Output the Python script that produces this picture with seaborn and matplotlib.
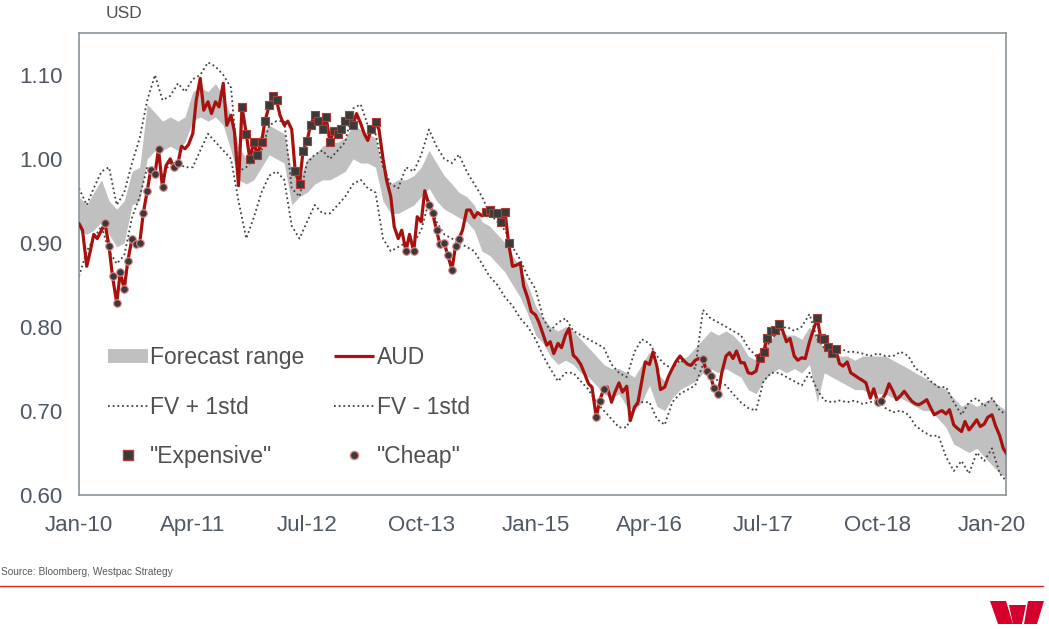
import numpy as np
import pandas as pd
import matplotlib
matplotlib.use('Agg')
import matplotlib.pyplot as plt
import matplotlib.dates as mdates
from matplotlib.lines import Line2D
from matplotlib.patches import Polygon
import seaborn as sns

# AUD/USD, semi-monthly readings (1st and 15th of each month), Jan-10 .. Mar-20
aud = [
    0.923, 0.915, 0.872, 0.890, 0.910, 0.905, 0.915, 0.923, 0.896, 0.860, 0.828, 0.865,
    0.845, 0.878, 0.905, 0.898, 0.900, 0.935, 0.962, 0.987, 0.982, 1.012, 0.966, 0.992,
    1.000, 0.990, 0.995, 1.015, 1.012, 1.017, 1.030, 1.070, 1.096, 1.058, 1.068, 1.054,
    1.068, 1.062, 1.090, 1.040, 1.052, 1.032, 0.968, 1.062, 1.030, 1.000, 1.020, 1.005,
    1.020, 1.045, 1.064, 1.075, 1.070, 1.052, 1.040, 1.045, 1.035, 0.985, 0.970, 1.009,
    1.021, 1.040, 1.052, 1.045, 1.035, 1.050, 1.020, 1.033, 1.030, 1.035, 1.045, 1.052,
    1.040, 1.054, 1.042, 1.030, 1.022, 1.035, 1.044, 1.035, 1.000, 0.975, 0.955, 0.919,
    0.905, 0.915, 0.890, 0.910, 0.890, 0.931, 0.925, 0.962, 0.945, 0.936, 0.915, 0.898,
    0.900, 0.885, 0.868, 0.896, 0.905, 0.915, 0.939, 0.939, 0.930, 0.936, 0.932, 0.937,
    0.939, 0.936, 0.935, 0.925, 0.937, 0.900, 0.872, 0.873, 0.876, 0.848, 0.834, 0.818,
    0.814, 0.805, 0.790, 0.778, 0.782, 0.768, 0.780, 0.775, 0.790, 0.798, 0.766, 0.762,
    0.755, 0.745, 0.732, 0.728, 0.692, 0.712, 0.726, 0.728, 0.710, 0.722, 0.733, 0.722,
    0.729, 0.688, 0.704, 0.710, 0.735, 0.758, 0.755, 0.770, 0.752, 0.725, 0.728, 0.740,
    0.750, 0.758, 0.765, 0.760, 0.755, 0.754, 0.760, 0.762, 0.761, 0.747, 0.741, 0.727,
    0.720, 0.745, 0.765, 0.769, 0.762, 0.771, 0.757, 0.757, 0.745, 0.744, 0.747, 0.763,
    0.770, 0.786, 0.795, 0.796, 0.803, 0.796, 0.782, 0.786, 0.765, 0.760, 0.763, 0.762,
    0.782, 0.795, 0.810, 0.786, 0.785, 0.776, 0.769, 0.773, 0.756, 0.753, 0.758, 0.745,
    0.742, 0.739, 0.736, 0.733, 0.715, 0.726, 0.710, 0.712, 0.720, 0.732, 0.723, 0.713,
    0.718, 0.723, 0.716, 0.711, 0.708, 0.707, 0.710, 0.713, 0.703, 0.695, 0.698, 0.700,
    0.696, 0.701, 0.683, 0.679, 0.675, 0.687, 0.677, 0.682, 0.689, 0.681, 0.684, 0.692,
    0.695, 0.682, 0.670, 0.655, 0.648,
]

# monthly fair value bands, Jan-10 .. Mar-20
fc_low = [
    0.915, 0.910, 0.915, 0.925, 0.910, 0.895, 0.900, 0.945, 0.950, 1.000, 1.010, 1.010,
    1.015, 1.010, 1.020, 1.045, 1.050, 1.045, 1.050, 1.040, 1.010, 0.975, 0.970, 0.975,
    0.990, 1.005, 1.000, 0.995, 0.945, 0.955, 0.960, 0.970, 0.975, 0.975, 0.980, 0.985,
    1.000, 0.995, 0.995, 0.990, 0.950, 0.935, 0.935, 0.940, 0.945, 0.955, 0.965, 0.950,
    0.940, 0.935, 0.930, 0.925, 0.915, 0.890, 0.885, 0.875, 0.865, 0.850, 0.835, 0.815,
    0.790, 0.780, 0.765, 0.755, 0.760, 0.755, 0.745, 0.740, 0.730, 0.720, 0.715, 0.720,
    0.705, 0.700, 0.710, 0.730, 0.705, 0.700, 0.715, 0.725, 0.730, 0.735, 0.745, 0.750,
    0.745, 0.750, 0.745, 0.740, 0.725, 0.720, 0.735, 0.745, 0.750, 0.745, 0.750, 0.745,
    0.755, 0.710, 0.745, 0.740, 0.735, 0.730, 0.725, 0.725, 0.720, 0.720, 0.720, 0.715,
    0.715, 0.710, 0.705, 0.700, 0.700, 0.690, 0.680, 0.660, 0.655, 0.650, 0.655, 0.645,
    0.635, 0.625, 0.620,
]
fc_high = [
    0.955, 0.945, 0.960, 0.975, 0.950, 0.940, 0.950, 0.985, 0.990, 1.065, 1.055, 1.045,
    1.050, 1.045, 1.050, 1.080, 1.085, 1.080, 1.090, 1.075, 1.050, 1.015, 1.000, 1.015,
    1.030, 1.040, 1.035, 1.030, 0.985, 0.975, 1.000, 1.005, 1.015, 1.020, 1.020, 1.025,
    1.040, 1.035, 1.030, 1.025, 0.985, 0.970, 0.975, 0.975, 0.980, 0.990, 1.010, 0.995,
    0.980, 0.970, 0.960, 0.955, 0.945, 0.925, 0.920, 0.910, 0.900, 0.885, 0.870, 0.850,
    0.825, 0.810, 0.800, 0.795, 0.800, 0.795, 0.785, 0.775, 0.765, 0.755, 0.750, 0.750,
    0.745, 0.740, 0.755, 0.770, 0.745, 0.735, 0.750, 0.760, 0.765, 0.775, 0.785, 0.795,
    0.790, 0.795, 0.790, 0.780, 0.765, 0.760, 0.775, 0.785, 0.795, 0.790, 0.790, 0.785,
    0.800, 0.785, 0.775, 0.770, 0.765, 0.765, 0.760, 0.765, 0.765, 0.765, 0.765, 0.760,
    0.755, 0.750, 0.745, 0.740, 0.735, 0.730, 0.725, 0.715, 0.705, 0.710, 0.705, 0.710,
    0.715, 0.705, 0.700,
]
fv_plus = [
    0.965, 0.945, 0.965, 0.985, 0.990, 0.945, 0.960, 0.995, 1.025, 1.070, 1.100, 1.070,
    1.075, 1.090, 1.080, 1.095, 1.100, 1.115, 1.110, 1.100, 1.085, 0.985, 0.990, 1.000,
    1.010, 1.040, 1.045, 1.045, 0.965, 0.955, 0.995, 1.005, 1.010, 1.000, 1.010, 1.020,
    1.060, 1.065, 1.040, 1.030, 0.990, 0.970, 0.965, 0.990, 0.985, 1.005, 1.035, 1.015,
    1.000, 0.995, 1.005, 0.985, 0.970, 0.955, 0.935, 0.925, 0.915, 0.895, 0.880, 0.860,
    0.845, 0.810, 0.795, 0.805, 0.810, 0.795, 0.790, 0.785, 0.780, 0.775, 0.755, 0.745,
    0.740, 0.770, 0.785, 0.780, 0.765, 0.755, 0.750, 0.760, 0.755, 0.750, 0.820, 0.810,
    0.805, 0.800, 0.795, 0.790, 0.775, 0.765, 0.770, 0.785, 0.795, 0.800, 0.795, 0.800,
    0.815, 0.785, 0.775, 0.770, 0.775, 0.770, 0.770, 0.768, 0.765, 0.768, 0.765, 0.765,
    0.770, 0.765, 0.750, 0.745, 0.735, 0.728, 0.728, 0.710, 0.695, 0.710, 0.715, 0.705,
    0.715, 0.700, 0.695,
]
fv_minus = [
    0.860, 0.890, 0.905, 0.920, 0.890, 0.875, 0.885, 0.930, 0.955, 0.990, 0.985, 0.980,
    0.995, 0.995, 0.990, 0.990, 1.010, 1.030, 1.020, 1.010, 1.000, 0.950, 0.905, 0.930,
    0.960, 0.980, 0.985, 0.975, 0.920, 0.905, 0.925, 0.945, 0.935, 0.935, 0.945, 0.955,
    0.970, 0.975, 0.965, 0.960, 0.905, 0.890, 0.895, 0.900, 0.900, 0.915, 0.950, 0.925,
    0.910, 0.905, 0.900, 0.895, 0.890, 0.875, 0.860, 0.850, 0.835, 0.825, 0.810, 0.800,
    0.785, 0.765, 0.750, 0.735, 0.745, 0.745, 0.735, 0.725, 0.710, 0.700, 0.690, 0.680,
    0.680, 0.705, 0.710, 0.710, 0.690, 0.683, 0.710, 0.720, 0.725, 0.730, 0.755, 0.745,
    0.735, 0.730, 0.720, 0.710, 0.703, 0.700, 0.735, 0.745, 0.745, 0.740, 0.735, 0.730,
    0.745, 0.725, 0.712, 0.710, 0.712, 0.710, 0.712, 0.708, 0.710, 0.713, 0.703, 0.698,
    0.700, 0.695, 0.682, 0.675, 0.670, 0.670, 0.645, 0.628, 0.640, 0.625, 0.650, 0.640,
    0.655, 0.625, 0.615,
]

# periods where AUD sat outside the +/- 1 std band
expensive_spans = [('2011-10-15', '2012-03-01'), ('2012-05-15', '2013-01-01'),
                   ('2013-03-15', '2013-04-01'), ('2014-06-15', '2014-09-15'),
                   ('2017-06-15', '2017-09-01'), ('2018-02-01', '2018-04-15')]
cheap_spans = [('2010-04-15', '2010-12-01'), ('2011-01-15', '2011-02-01'),
               ('2013-08-01', '2013-08-01'), ('2013-09-01', '2013-09-01'),
               ('2013-11-01', '2014-03-01'), ('2015-09-01', '2015-10-01'),
               ('2016-11-01', '2017-01-01'), ('2018-10-01', '2018-10-15')]

tick_dates = pd.date_range('2010-01-01', periods=9, freq='15MS')

aud_df = pd.DataFrame({'date': pd.date_range('2010-01-01', periods=len(aud), freq='SMS'),
                       'aud': aud})
band_df = pd.DataFrame({'date': pd.date_range('2010-01-01', periods=len(fc_low), freq='MS'),
                        'low': fc_low, 'high': fc_high, 'plus': fv_plus, 'minus': fv_minus})


def pick(spans):
    mask = np.zeros(len(aud_df), dtype=bool)
    for a, b in spans:
        mask |= (aud_df['date'] >= a) & (aud_df['date'] <= b)
    return aud_df[mask]


exp_df = pick(expensive_spans)
cheap_df = pick(cheap_spans)

sns.set_style('white')
plt.rcParams['font.family'] = ['Liberation Sans', 'DejaVu Sans']

RED = '#a8120e'
GREY = '#c0c0c0'
DOT = '#404040'
TXT = '#4e5763'
FRAME = '#8a9299'
dotted = (0, (1, 1.6))

fig = plt.figure(figsize=(10.49, 6.29), dpi=100)
ax = fig.add_axes([79 / 1049, 1 - 494.5 / 629, 927 / 1049, 461.5 / 629])

ax.fill_between(band_df['date'], band_df['low'], band_df['high'], color=GREY, lw=0, zorder=1)
sns.lineplot(data=band_df, x='date', y='plus', ax=ax, color=DOT, lw=1.3,
             linestyle=dotted, estimator=None, zorder=2)
sns.lineplot(data=band_df, x='date', y='minus', ax=ax, color=DOT, lw=1.3,
             linestyle=dotted, estimator=None, zorder=2)
sns.lineplot(data=aud_df, x='date', y='aud', ax=ax, color=RED, lw=2.3,
             estimator=None, zorder=3)
sns.scatterplot(data=exp_df, x='date', y='aud', ax=ax, marker='s', s=38,
                color='#3a3a3a', edgecolor='#b23a35', linewidth=0.8, zorder=4)
sns.scatterplot(data=cheap_df, x='date', y='aud', ax=ax, marker='o', s=30,
                color='#3a3a3a', edgecolor='#e08a8a', linewidth=0.8, zorder=4)

ax.set_xlim(pd.Timestamp('2010-01-01'), pd.Timestamp('2020-02-26'))
ax.set_ylim(0.60, 1.15)
ax.set_xticks(tick_dates)
ax.xaxis.set_major_formatter(mdates.DateFormatter('%b-%y'))
ax.set_yticks(np.arange(0.60, 1.101, 0.10))
ax.yaxis.set_major_formatter(plt.FormatStrFormatter('%.2f'))
ax.set_xlabel('')
ax.set_ylabel('')
for s in ax.spines.values():
    s.set_color(FRAME)
    s.set_linewidth(1.2)
ax.tick_params(axis='both', colors=FRAME, labelcolor=TXT, labelsize=16,
               length=6, width=1.1, direction='out')
ax.tick_params(axis='x', pad=9)
ax.tick_params(axis='y', pad=6)

handles = [
    Line2D([], [], color=GREY, lw=10, solid_capstyle='butt'),
    Line2D([], [], color=DOT, lw=1.3, linestyle=dotted),
    Line2D([], [], color='#3a3a3a', marker='s', markersize=7, markeredgecolor='#b23a35',
           linestyle='none'),
    Line2D([], [], color=RED, lw=2.3, solid_capstyle='butt'),
    Line2D([], [], color=DOT, lw=1.3, linestyle=dotted),
    Line2D([], [], color='#3a3a3a', marker='o', markersize=6, markeredgecolor='#e08a8a',
           linestyle='none'),
]
labels = ['Forecast range', 'FV + 1std', '"Expensive"', 'AUD', 'FV - 1std', '"Cheap"']
leg = ax.legend(handles, labels, ncol=2, loc='lower left', bbox_to_anchor=(0.031, 0.058),
                frameon=False, fontsize=16.5, handlelength=1.75, handletextpad=0.1,
                columnspacing=1.3, labelspacing=1.14, borderpad=0, borderaxespad=0)
for t in leg.get_texts():
    t.set_color('#505050')

fig.text(124 / 1049, 1 - 14 / 629, 'USD', ha='center', va='center', fontsize=12.5, color='#505050')
fig.text(1 / 1049, 1 - 572 / 629, 'Source: Bloomberg, Westpac Strategy', ha='left',
         va='center', fontsize=7.3, color='#595959')
fig.add_artist(Line2D([0, 1043 / 1049], [1 - 586 / 629] * 2, color='#e2231a', lw=1.0,
                      transform=fig.transFigure))

# Westpac logo
logo_red = '#d5002b'
for pts in ([(990, 601), (1006, 601), (1013, 624), (998, 624)],
            [(1009, 605), (1026, 605), (1022, 624), (1013, 624)],
            [(1028, 601), (1044, 601), (1037, 624), (1024, 624)]):
    fig.add_artist(Polygon([(x / 1049, 1 - y / 629) for x, y in pts], closed=True,
                           color=logo_red, transform=fig.transFigure, lw=0))

fig.savefig('out.png', dpi=100)
